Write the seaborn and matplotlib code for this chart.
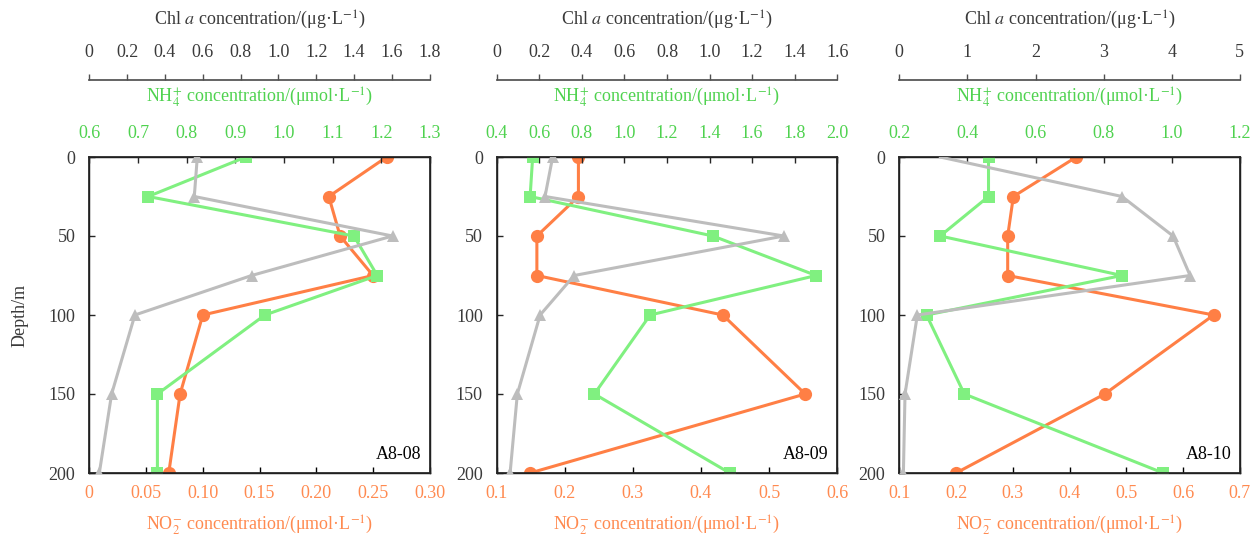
import matplotlib
matplotlib.use("Agg")
import matplotlib.pyplot as plt
import seaborn as sns
import numpy as np

# depth profiles for stations A8-08, A8-09, A8-10
depth = [0, 25, 50, 75, 100, 150, 200]
stations = ["A8-08", "A8-09", "A8-10"]

no2_0808 = [0.262, 0.211, 0.221, 0.250, 0.100, 0.080, 0.070]
no2_0809 = [0.220, 0.220, 0.159, 0.159, 0.432, 0.553, 0.149]
no2_0810 = [0.412, 0.301, 0.291, 0.291, 0.654, 0.462, 0.200]

nh4_0808 = [0.922, 0.721, 1.144, 1.192, 0.961, 0.740, 0.740]
nh4_0809 = [0.569, 0.557, 1.416, 1.901, 1.121, 0.859, 1.495]
nh4_0810 = [0.462, 0.462, 0.320, 0.854, 0.280, 0.391, 0.975]

chl_0808 = [0.571, 0.555, 1.603, 0.858, 0.241, 0.118, 0.053]
chl_0809 = [0.263, 0.227, 1.349, 0.364, 0.204, 0.097, 0.063]
chl_0810 = [0.60, 3.27, 4.02, 4.27, 0.265, 0.084, 0.060]

# axis ticks
no2_ticks = [[0, 0.05, 0.10, 0.15, 0.20, 0.25, 0.30],
             [0.1, 0.2, 0.3, 0.4, 0.5, 0.6],
             [0.1, 0.2, 0.3, 0.4, 0.5, 0.6, 0.7]]
no2_labels = [["0", "0.05", "0.10", "0.15", "0.20", "0.25", "0.30"],
              ["0.1", "0.2", "0.3", "0.4", "0.5", "0.6"],
              ["0.1", "0.2", "0.3", "0.4", "0.5", "0.6", "0.7"]]
nh4_ticks = [[0.6, 0.7, 0.8, 0.9, 1.0, 1.1, 1.2, 1.3],
             [0.4, 0.6, 0.8, 1.0, 1.2, 1.4, 1.6, 1.8, 2.0],
             [0.2, 0.4, 0.6, 0.8, 1.0, 1.2]]
chl_ticks = [[0, 0.2, 0.4, 0.6, 0.8, 1.0, 1.2, 1.4, 1.6, 1.8],
             [0, 0.2, 0.4, 0.6, 0.8, 1.0, 1.2, 1.4, 1.6],
             [0, 1, 2, 3, 4, 5]]
depth_ticks = [0, 50, 100, 150, 200]

no2_all = [no2_0808, no2_0809, no2_0810]
nh4_all = [nh4_0808, nh4_0809, nh4_0810]
chl_all = [chl_0808, chl_0809, chl_0810]

ORANGE = "#ff7f45"
GREEN = "#80f080"
GRAY = "#bdbdbd"
ORANGE_TXT = "#ff8a50"
GREEN_TXT = "#4fd24f"
DARK_TXT = "#3a3a3a"

sns.set_theme(style="ticks")
plt.rcParams["font.family"] = ["Liberation Serif", "DejaVu Serif"]
plt.rcParams["mathtext.fontset"] = "stix"
plt.rcParams["font.size"] = 13
plt.rcParams["xtick.labelsize"] = 13
plt.rcParams["ytick.labelsize"] = 13
plt.rcParams["axes.labelsize"] = 13

def fmt(v):
    return "0" if v == 0 else f"{v:.1f}"

fig = plt.figure(figsize=(12.59, 5.39), dpi=100)

W, H = 1259, 539
lefts = [89.3, 496.7, 899.3]
box_w, top_px, bot_px = 340.5, 157, 473
box_h = bot_px - top_px

for i in range(3):
    ax = fig.add_axes([lefts[i] / W, 1 - bot_px / H, box_w / W, box_h / H])
    ax_nh = ax.twiny()
    ax_chl = ax.twiny()

    # chlorophyll (grey triangles), hide the clipped surface marker in A8-10
    mk = slice(1, None) if i == 2 else None
    sns.lineplot(x=chl_all[i], y=depth, ax=ax_chl, sort=False, estimator=None,
                 color=GRAY, lw=2.2, marker="^", markersize=9, mew=0,
                 markevery=mk)
    sns.lineplot(x=no2_all[i], y=depth, ax=ax, sort=False, estimator=None,
                 color=ORANGE, lw=2.2, marker="o", markersize=9.5, mew=0)
    sns.lineplot(x=nh4_all[i], y=depth, ax=ax_nh, sort=False, estimator=None,
                 color=GREEN, lw=2.2, marker="s", markersize=8.5, mew=0)

    ax.set_ylim(200, 0)
    ax.set_yticks(depth_ticks)
    ax.set_yticklabels([str(d) for d in depth_ticks])

    # bottom NO2 axis
    ax.set_xlim(no2_ticks[i][0], no2_ticks[i][-1])
    ax.set_xticks(no2_ticks[i])
    ax.set_xticklabels(no2_labels[i])
    ax.tick_params(axis="x", direction="in", length=4, width=1, pad=9,
                   colors="black", labelcolor=ORANGE_TXT)
    ax.tick_params(axis="y", direction="in", length=4, width=1, pad=10,
                   labelcolor=DARK_TXT, right=False)
    ax.set_xlabel(r"NO$_2^{-}$ concentration/(μmol·L$^{-1}$)", color=ORANGE_TXT)
    ax.xaxis.set_label_coords(0.5, -(525 - bot_px) / box_h)
    ax.xaxis.label.set_va("center")
    ax.set_ylabel("")

    # top NH4 axis
    ax_nh.set_xlim(nh4_ticks[i][0], nh4_ticks[i][-1])
    ax_nh.set_xticks(nh4_ticks[i])
    ax_nh.set_xticklabels([fmt(v) for v in nh4_ticks[i]])
    ax_nh.tick_params(axis="x", direction="in", length=4, width=1, pad=11,
                      labelcolor=GREEN_TXT)
    ax_nh.set_xlabel(r"NH$_4^{+}$ concentration/(μmol·L$^{-1}$)", color=GREEN_TXT)
    ax_nh.xaxis.set_label_coords(0.5, 1 + (top_px - 97) / box_h)
    ax_nh.xaxis.label.set_va("center")

    # floating Chl a axis
    ax_chl.set_xlim(chl_ticks[i][0], chl_ticks[i][-1])
    ax_chl.set_xticks(chl_ticks[i])
    ax_chl.set_xticklabels([fmt(v) if i < 2 else str(v) for v in chl_ticks[i]])
    ax_chl.spines["top"].set_position(("axes", 1 + (top_px - 80) / box_h))
    ax_chl.spines["top"].set_color("#505050")
    for s in ["left", "right", "bottom"]:
        ax_chl.spines[s].set_visible(False)
    ax_chl.tick_params(axis="x", direction="out", length=4, width=1, pad=10,
                       labelcolor=DARK_TXT, color="#505050")
    ax_chl.set_xlabel(r"Chl $a$ concentration/(μg·L$^{-1}$)", color=DARK_TXT)
    ax_chl.xaxis.set_label_coords(0.5, 1 + (top_px - 20) / box_h)
    ax_chl.xaxis.label.set_va("center")

    for s in ax.spines.values():
        s.set_color("black")
        s.set_linewidth(1.0)

    ax.text(0.975, 0.057, stations[i], transform=ax.transAxes, ha="right",
            va="center", color="black", fontsize=13, zorder=10)

    if i == 0:
        ax.set_ylabel("Depth/m", color=DARK_TXT)
        ax.yaxis.set_label_coords(-(lefts[0] - 20) / box_w, 0.5)
        ax.yaxis.label.set_va("center")

fig.savefig("out.png", dpi=100)
